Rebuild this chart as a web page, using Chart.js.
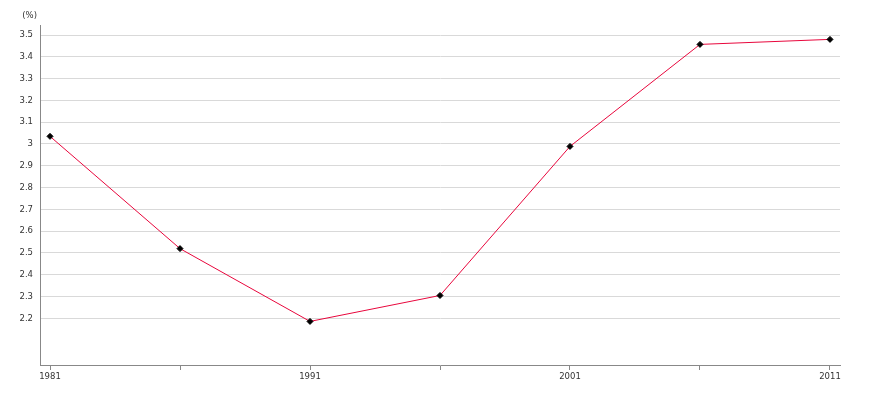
<!DOCTYPE html>
<html>
<head>
<meta charset="utf-8">
<script src="https://cdn.jsdelivr.net/npm/chart.js@4"></script>
<style>
  html, body { margin: 0; padding: 0; background: #fff; }
  #wrap { width: 870px; height: 400px; }
</style>
</head>
<body>
<div id="wrap"><canvas id="rateChart" width="870" height="400"></canvas></div>
<script>
var years = [1981, 1986, 1991, 1996, 2001, 2006, 2011];
var rates = [3.035, 2.52, 2.186, 2.305, 2.989, 3.457, 3.48];
var xTicks = [1981, 1986, 1991, 1996, 2001, 2006, 2011];
var xLabels = [1981, 1991, 2001, 2011];
var yTicks = [2.2, 2.3, 2.4, 2.5, 2.6, 2.7, 2.8, 2.9, 3, 3.1, 3.2, 3.3, 3.4, 3.5];
var unitLabel = '(%)';

var points = years.map(function (y, i) { return { x: y, y: rates[i] }; });

// draws the small "(%)" unit above the y axis
var unitPlugin = {
    id: 'unitLabel',
    afterDraw: function (chart) {
        var ctx = chart.ctx;
        var yScale = chart.scales.y;
        ctx.save();
        ctx.font = '8.5px "DejaVu Sans", sans-serif';
        ctx.fillStyle = '#333';
        ctx.textAlign = 'right';
        ctx.textBaseline = 'middle';
        ctx.fillText(unitLabel, yScale.right - 3, 16);
        ctx.restore();
    }
};

function buildRateChart() {
    var ctx = document.getElementById('rateChart').getContext('2d');
    new Chart(ctx, {
        type: 'line',
        data: {
            datasets: [{
                data: points,
                borderColor: '#e8063c',
                borderWidth: 1,
                pointStyle: 'rectRot',
                pointRadius: 3,
                pointHoverRadius: 3,
                pointBackgroundColor: '#000',
                pointBorderColor: '#000',
                pointBorderWidth: 1,
                tension: 0,
                fill: false
            }]
        },
        options: {
            responsive: false,
            animation: false,
            layout: { padding: { top: 25, right: 30, left: 0, bottom: 0 } },
            plugins: {
                legend: { display: false },
                tooltip: { enabled: false }
            },
            scales: {
                x: {
                    type: 'linear',
                    min: 1980.615,
                    max: 2011.385,
                    afterBuildTicks: function (axis) {
                        axis.ticks = xTicks.map(function (v) { return { value: v }; });
                    },
                    afterFit: function (axis) { axis.height = 35; },
                    ticks: {
                        autoSkip: false,
                        maxRotation: 0,
                        padding: 2,
                        color: '#333',
                        font: { family: '"DejaVu Sans", sans-serif', size: 8.5 },
                        callback: function (v) { return xLabels.indexOf(v) >= 0 ? String(v) : ''; }
                    },
                    grid: {
                        drawOnChartArea: false,
                        drawTicks: true,
                        tickLength: 5,
                        color: '#888'
                    },
                    border: { color: '#888', width: 1 }
                },
                y: {
                    type: 'linear',
                    min: 1.986,
                    max: 3.546,
                    afterBuildTicks: function (axis) {
                        axis.ticks = yTicks.map(function (v) { return { value: v }; });
                    },
                    afterFit: function (axis) { axis.width = 40; },
                    ticks: {
                        autoSkip: false,
                        padding: 7,
                        color: '#333',
                        font: { family: '"DejaVu Sans", sans-serif', size: 8.5 },
                        callback: function (v) { return String(Math.round(v * 10) / 10); }
                    },
                    grid: {
                        color: '#d9d9d9',
                        drawTicks: false
                    },
                    border: { color: '#888', width: 1 }
                }
            }
        },
        plugins: [unitPlugin]
    });
}

buildRateChart();
</script>
</body>
</html>
